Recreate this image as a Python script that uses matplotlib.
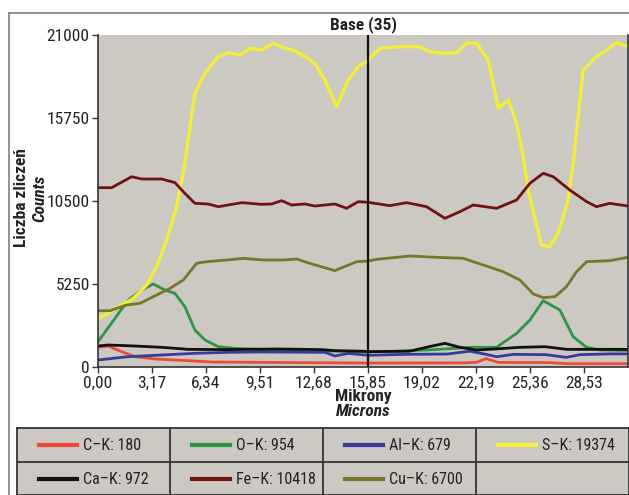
import matplotlib
matplotlib.use("Agg")
import matplotlib.pyplot as plt
from matplotlib.lines import Line2D

plt.rcParams['font.family'] = ['Liberation Sans Narrow', 'Roboto Condensed', 'Liberation Sans', 'DejaVu Sans']

# dane (mikrony / liczba zliczeń)
c_x = [0.0, 0.6, 1.39, 2.17, 3.35, 5.3, 6.67, 10.0, 15.85, 21.5, 22.23, 22.8, 23.5, 26.5, 27.5, 31.1]
c_y = [1244, 1328, 970, 654, 506, 400, 316, 290, 250, 260, 300, 527, 290, 280, 210, 210]

o_x = [0.0, 1.0, 1.78, 2.56, 3.25, 3.93, 4.52, 5.1, 5.69, 6.28, 7.06, 8.04, 10.0, 12.0, 14.0,
       15.85, 17.5, 19.29, 20.5, 21.84, 23.4, 24.58, 25.36, 26.14, 27.12, 27.9, 28.69, 29.47, 31.1]
o_y = [1600, 3080, 4238, 4870, 5250, 4870, 4660, 3814, 2340, 1708, 1285, 1180, 1100, 1050, 1000,
       954, 1000, 1075, 1150, 1244, 1244, 2130, 2973, 4196, 3605, 1918, 1244, 1075, 1050]

al_x = [0.0, 1.78, 3.74, 5.69, 7.65, 9.6, 13.32, 13.91, 14.7, 15.85, 18.0, 20.5, 21.84, 22.8,
        23.4, 24.4, 26.3, 27.5, 28.3, 30.05, 31.1]
al_y = [443, 654, 759, 865, 930, 950, 930, 696, 860, 740, 800, 820, 1000, 800,
        650, 800, 780, 610, 780, 830, 830]

s_x = [0.06, 1.1, 2.07, 2.86, 3.44, 4.03, 4.62, 5.1, 5.69, 6.28, 7.06, 7.65, 8.34, 8.92, 9.61,
       10.29, 10.98, 11.56, 12.15, 12.74, 13.32, 14.01, 14.69, 15.28, 15.85, 16.55, 17.73, 18.9,
       19.49, 20.27, 21.05, 21.64, 22.23, 22.91, 23.2, 23.5, 24.09, 24.58, 24.97, 25.26, 26.04,
       26.53, 27.02, 27.6, 27.9, 28.49, 29.27, 29.86, 30.45, 31.1]
s_y = [3080, 3713, 4345, 5187, 6344, 8033, 10140, 12884, 17311, 18576, 19627, 19880, 19734, 20157, 20050,
       20475, 20157, 20006, 19627, 19209, 18153, 16464, 18153, 18994, 19374, 20157, 20260, 20260,
       19943, 19841, 19880, 20475, 20475, 19418, 17944, 16363, 16888, 15414, 13302, 11195, 7717,
       7610, 8475, 10563, 12884, 18785, 19627, 20050, 20513, 20260]

ca_x = [0.0, 0.6, 2.17, 3.74, 5.3, 7.65, 10.58, 13.13, 13.91, 15.48, 15.85, 18.3, 19.29, 20.37,
        21.25, 22.23, 23.6, 24.77, 26.24, 27.51, 31.1]
ca_y = [1328, 1391, 1328, 1244, 1117, 1100, 1140, 1100, 1033, 1000, 972, 1000, 1250, 1497,
        1244, 1075, 1160, 1244, 1285, 1117, 1117]

fe_x = [0.0, 0.8, 1.98, 2.56, 3.74, 4.52, 5.1, 5.69, 6.47, 7.06, 8.44, 9.61, 10.2, 10.78, 11.37,
        12.15, 12.74, 13.91, 14.6, 15.28, 15.85, 17.14, 18.12, 19.29, 20.37, 21.25, 22.03, 23.4,
        24.58, 25.36, 26.14, 26.73, 27.7, 28.69, 29.27, 30.05, 31.1]
fe_y = [11343, 11343, 12036, 11891, 11891, 11660, 10984, 10353, 10310, 10140, 10395, 10290, 10310, 10520, 10247,
        10310, 10183, 10310, 10037, 10457, 10418, 10205, 10395, 10141, 9405, 9824, 10247, 10037,
        10563, 11617, 12251, 12036, 11195, 10457, 10140, 10353, 10183]

cu_x = [0.0, 0.7, 1.68, 2.47, 3.25, 4.23, 5.01, 5.79, 6.38, 7.55, 8.53, 9.7, 10.88, 11.66, 12.44,
        13.91, 15.18, 15.85, 16.36, 18.31, 19.88, 21.45, 22.62, 23.79, 24.77, 25.56, 26.14, 26.83,
        27.51, 28.1, 28.69, 30.05, 31.1]
cu_y = [3561, 3561, 3922, 4028, 4449, 4976, 5503, 6556, 6661, 6768, 6873, 6768, 6768, 6831, 6556,
        6093, 6661, 6700, 6810, 7021, 6937, 6873, 6452, 6029, 5503, 4617, 4386, 4449,
        5082, 6029, 6661, 6725, 6937]

serie = [
    ("C\u2013K", 180, c_x, c_y, "#ee4a3a"),
    ("O\u2013K", 954, o_x, o_y, "#2e9444"),
    ("Al\u2013K", 679, al_x, al_y, "#3a3a9c"),
    ("S\u2013K", 19374, s_x, s_y, "#f4ee3a"),
    ("Ca\u2013K", 972, ca_x, ca_y, "#111111"),
    ("Fe\u2013K", 10418, fe_x, fe_y, "#6e1212"),
    ("Cu\u2013K", 6700, cu_x, cu_y, "#77762a"),
]

y_ticks = [0, 5250, 10500, 15750, 21000]
x_ticks = [0.00, 3.17, 6.34, 9.51, 12.68, 15.85, 19.02, 22.19, 25.36, 28.53]
kursor = 15.85
x_max = 31.12

W, H = 629, 495
fs = 12.5
fs_leg = 11.5
fig = plt.figure(figsize=(W / 100, H / 100), dpi=100)

# ramka zewnetrzna
fig.add_artist(Line2D([9 / W, 1.0], [1 - 13 / H, 1 - 13 / H], color="#808080", lw=1.2))
fig.add_artist(Line2D([9 / W, 9 / W], [0, 1 - 13 / H], color="#808080", lw=1.2))

ax = fig.add_axes([98 / W, 1 - 367 / H, 530 / W, 332 / H])
ax.set_facecolor("#ccc9c2")
for nazwa, wart, xs, ys, kolor in serie:
    lw = 2.4 if nazwa.startswith("S") else 2.0
    ax.plot(xs, ys, color=kolor, lw=lw, solid_joinstyle="round")
ax.axvline(kursor, color="#111111", lw=1.6)

ax.set_xlim(0, x_max)
ax.set_ylim(0, 21000)
ax.set_yticks(y_ticks)
ax.set_yticklabels([str(v) for v in y_ticks])
ax.set_xticks(x_ticks)
ax.set_xticklabels([f"{v:.2f}".replace(".", ",") for v in x_ticks])
ax.tick_params(direction="out", length=4, width=1, color="#333333", labelsize=fs,
               labelcolor="#222222", pad=2)
ax.spines["top"].set_visible(False)
for s in ["left", "bottom", "right"]:
    ax.spines[s].set_color("#333333")
    ax.spines[s].set_linewidth(1.2)

fig.text(363 / W, 1 - 25 / H, "Base (35)", ha="center", va="center", fontsize=fs,
         fontweight="bold", color="#222222")
fig.text(22 / W, 1 - 198 / H, "Liczba zliczeń", rotation=90, ha="center", va="center",
         fontsize=fs, fontweight="bold", color="#222222")
fig.text(40 / W, 1 - 198 / H, "Counts", rotation=90, ha="center", va="center",
         fontsize=fs, fontweight="bold", style="italic", color="#222222")
fig.text(363 / W, 1 - 397 / H, "Mikrony", ha="center", va="center", fontsize=fs,
         fontweight="bold", color="#222222")
fig.text(363 / W, 1 - 412 / H, "Microns", ha="center", va="center", fontsize=fs,
         fontweight="bold", style="italic", color="#222222")

# tabela legendy
lg = fig.add_axes([17 / W, 0, 612 / W, 67 / H])
lg.set_facecolor("#ccc9c2")
lg.set_xlim(0, 4)
lg.set_ylim(0, 67 / 34)
lg.set_xticks([])
lg.set_yticks([])
for s in lg.spines.values():
    s.set_color("#333333")
    s.set_linewidth(1.3)
for k in range(1, 4):
    lg.axvline(k, color="#333333", lw=1.3)
lg.axhline(67 / 34 - 1, color="#333333", lw=1.3)
for i, (nazwa, wart, xs, ys, kolor) in enumerate(serie):
    kol = i % 4
    rz = i // 4
    yc = 67 / 34 - 0.5 - rz
    lg.plot([kol + 22 / 153, kol + 60 / 153], [yc, yc], color=kolor, lw=3)
    lg.text(kol + 66 / 153, yc, f"{nazwa}: {wart}", ha="left", va="center", fontsize=fs_leg,
            color="#222222")

fig.savefig("out.png", dpi=100)
